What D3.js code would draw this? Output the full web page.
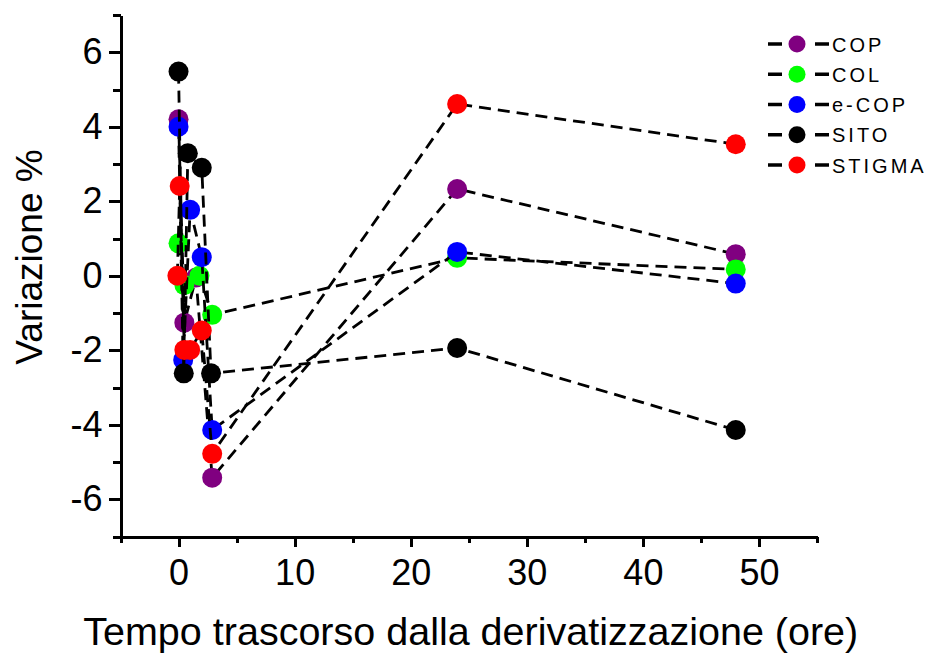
<!DOCTYPE html>
<html>
<head>
<meta charset="utf-8">
<script src="https://cdn.jsdelivr.net/npm/d3@7"></script>
<style>
  html, body { margin: 0; padding: 0; background: #ffffff; }
  svg { display: block; }
  text { font-family: "Liberation Sans", Arial, sans-serif; fill: #000; }
</style>
</head>
<body>
<svg id="chart" width="929" height="654"></svg>
<script>
// Series names and marker colours
const seriesNames = ["COP", "COL", "e-COP", "SITO", "STIGMA"];
const seriesColors = ["#800080", "#00ff00", "#0000ff", "#000000", "#ff0000"];

// Hours elapsed since derivatization, and % variation, for each series
const copHours    = [0, 0.5, 1.5, 2.9, 24, 48];
const copValues   = [4.20, -1.26, -0.05, -5.42, 2.33, 0.58];

const colHours    = [0, 0.5, 1.8, 2.9, 24, 48];
const colValues   = [0.87, -0.25, 0.00, -1.05, 0.48, 0.17];

const ecopHours   = [0, 0.4, 1, 2, 2.9, 24, 48];
const ecopValues  = [4.00, -2.26, 1.77, 0.50, -4.14, 0.64, -0.21];

const sitoHours   = [0, 0.45, 0.8, 2, 2.8, 24, 48];
const sitoValues  = [5.48, -2.62, 3.29, 2.90, -2.62, -1.94, -4.14];

const stigmaHours  = [-0.1, 0.1, 0.5, 1, 2, 2.9, 24, 48];
const stigmaValues = [0.00, 2.41, -1.99, -1.99, -1.47, -4.78, 4.61, 3.53];

// Axis ticks
const xMajorTicks = [0, 10, 20, 30, 40, 50];
const xMinorTicks = [-5, 5, 15, 25, 35, 45, 55];
const yMajorTicks = [-6, -4, -2, 0, 2, 4, 6];
const yMinorTicks = [-7, -5, -3, -1, 1, 3, 5, 7];

const xTitle = "Tempo trascorso dalla derivatizzazione (ore)";
const yTitle = "Variazione %";

const seriesData = [
  [copHours, copValues],
  [colHours, colValues],
  [ecopHours, ecopValues],
  [sitoHours, sitoValues],
  [stigmaHours, stigmaValues]
].map(([h, v], i) => ({
  name: seriesNames[i],
  color: seriesColors[i],
  points: h.map((t, j) => ({ t, v: v[j] }))
}));

const svg = d3.select("#chart");

const x = d3.scaleLinear().domain([-5, 55]).range([120.5, 817]);
const y = d3.scaleLinear().domain([-7, 7]).range([536.5, 15]);

const axisW = 3;

// ---- Axes ----
const gx = svg.append("g").attr("transform", `translate(0,${y(-7)})`);
gx.call(d3.axisBottom(x).tickValues(xMajorTicks).tickSize(10).tickSizeOuter(0)
  .tickPadding(13).tickFormat(d3.format("d")));
const gxMinor = svg.append("g").attr("transform", `translate(0,${y(-7)})`);
gxMinor.call(d3.axisBottom(x).tickValues(xMinorTicks).tickSize(6.5).tickSizeOuter(0).tickFormat(""));
gxMinor.select(".domain").remove();

const gy = svg.append("g").attr("transform", `translate(${x(-5)},0)`);
gy.call(d3.axisLeft(y).tickValues(yMajorTicks).tickSize(12).tickSizeOuter(0)
  .tickPadding(6).tickFormat(d => d < 0 ? "-" + Math.abs(d) : String(d)));
const gyMinor = svg.append("g").attr("transform", `translate(${x(-5)},0)`);
gyMinor.call(d3.axisLeft(y).tickValues(yMinorTicks).tickSize(8).tickSizeOuter(0).tickFormat(""));
gyMinor.select(".domain").remove();

svg.selectAll(".domain, .tick line")
  .attr("stroke", "#000").attr("stroke-width", axisW).attr("shape-rendering", "crispEdges");
svg.selectAll(".tick text")
  .attr("font-family", '"Liberation Sans", Arial, sans-serif')
  .attr("font-size", 36).attr("fill", "#000");

// ---- Axis titles ----
svg.append("text")
  .attr("x", (x(-5) + x(55)) / 2 + 2)
  .attr("y", 645)
  .attr("text-anchor", "middle")
  .attr("font-size", 39.5)
  .text(xTitle);

svg.append("text")
  .attr("transform", `translate(42,257) rotate(-90)`)
  .attr("text-anchor", "middle")
  .attr("font-size", 37)
  .text(yTitle);

// ---- Series: dashed connecting line, then markers ----
const line = d3.line().x(d => x(d.t)).y(d => y(d.v));

seriesData.forEach(s => {
  const g = svg.append("g").attr("class", "series");
  g.append("path")
    .datum(s.points)
    .attr("d", line)
    .attr("fill", "none")
    .attr("stroke", "#000")
    .attr("stroke-width", 2.8)
    .attr("stroke-dasharray", "12,7");
  g.selectAll("circle")
    .data(s.points)
    .join("circle")
    .attr("cx", d => x(d.t))
    .attr("cy", d => y(d.v))
    .attr("r", 10)
    .attr("fill", s.color);
});

// ---- Legend ----
const legend = svg.append("g").attr("transform", "translate(768,44)");
seriesData.forEach((s, i) => {
  const row = legend.append("g").attr("transform", `translate(0,${i * 30.25})`);
  row.append("line").attr("x1", 0).attr("x2", 14).attr("y1", 0).attr("y2", 0)
    .attr("stroke", "#000").attr("stroke-width", 3.5);
  row.append("line").attr("x1", 47).attr("x2", 61).attr("y1", 0).attr("y2", 0)
    .attr("stroke", "#000").attr("stroke-width", 3.5);
  row.append("circle").attr("cx", 29).attr("cy", 0).attr("r", 8.5).attr("fill", s.color);
  row.append("text")
    .attr("x", 64)
    .attr("y", 7.5)
    .attr("font-size", 20)
    .attr("letter-spacing", 3)
    .text(s.name);
});
</script>
</body>
</html>
